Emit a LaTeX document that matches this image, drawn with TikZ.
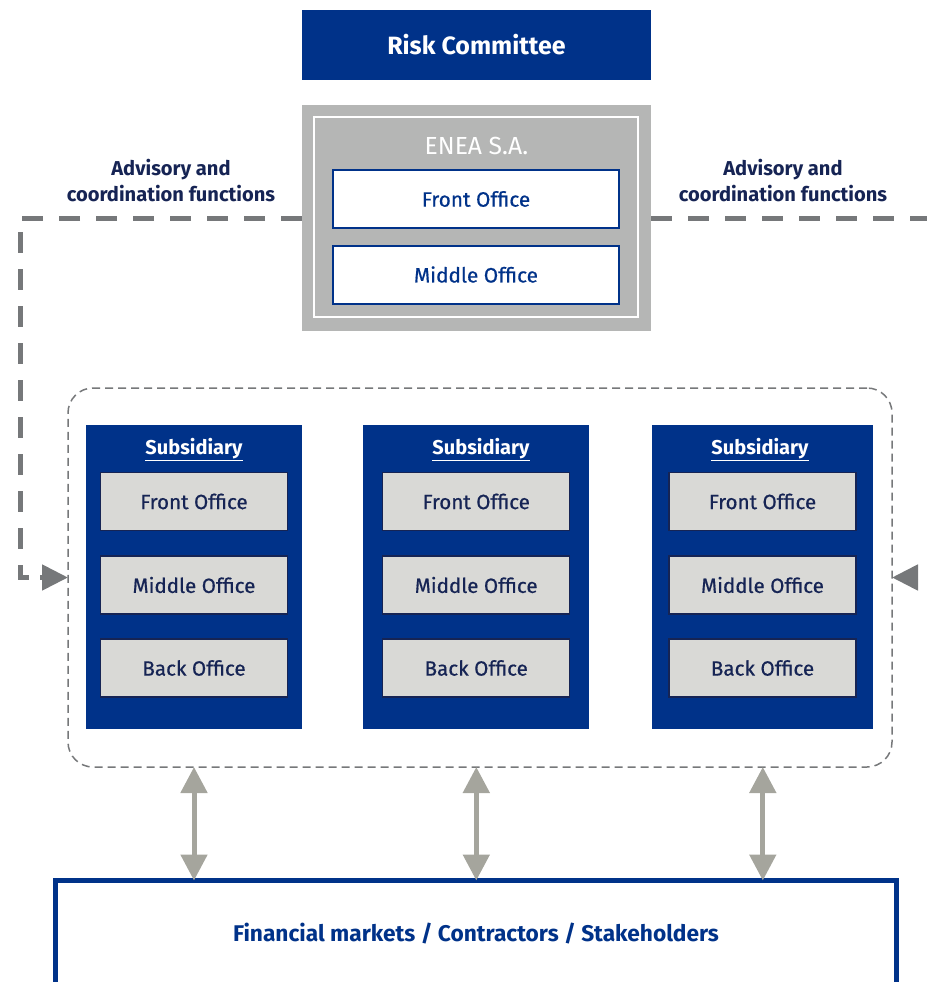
\documentclass[tikz,border=0pt]{standalone}
\usepackage{fontspec}
\setmainfont{Fira Sans}
\newfontfamily\medfont{Fira Sans}[FakeBold=0.6]
\usetikzlibrary{arrows.meta}
\definecolor{navy}{RGB}{0,50,137}
\definecolor{darknavy}{RGB}{22,36,84}
\definecolor{eneagray}{RGB}{181,182,181}
\definecolor{dashgray}{RGB}{118,120,122}
\definecolor{arrowgray}{RGB}{165,165,157}
\definecolor{subfill}{RGB}{217,217,214}
\begin{document}
\begin{tikzpicture}[x=1pt,y=-1pt,
  every node/.style={inner sep=0pt, outer sep=0pt},
  riskbox/.style={rectangle, fill=navy, text=white, minimum width=349pt, minimum height=70pt, font=\fontsize{25}{30}\selectfont\bfseries},
  eneabox/.style={rectangle, fill=eneagray, minimum width=349pt, minimum height=226pt},
  eneainner/.style={rectangle, draw=white, line width=2pt, minimum width=324pt, minimum height=200pt},
  eneaoffice/.style={rectangle, fill=white, draw=navy, line width=2pt, minimum width=286pt, minimum height=58pt, text=navy, font=\medfont\fontsize{20.8}{24}\selectfont},
  advlabel/.style={align=center, text=darknavy, font=\fontsize{20.1}{26}\selectfont\bfseries},
  coordline/.style={draw=dashgray, line width=5pt, dash pattern=on 21pt off 16pt},
  tipline/.style={draw=dashgray, line width=5pt, -{Triangle[length=26pt,width=25pt]}},
  groupbox/.style={rectangle, draw=dashgray, line width=1.5pt, dash pattern=on 8pt off 5pt, rounded corners=25pt, minimum width=824pt, minimum height=379pt},
  subbox/.style={rectangle, fill=navy, minimum height=304pt},
  subtitle/.style={text=white, font=\fontsize{20}{24}\selectfont\bfseries},
  officebox/.style={rectangle, fill=subfill, draw=darknavy, line width=1.5pt, minimum width=187pt, minimum height=58pt, text=darknavy, font=\medfont\fontsize{20.6}{24}\selectfont},
  biarrow/.style={draw=arrowgray, line width=5pt, {Triangle[length=26pt,width=26pt]}-{Triangle[length=26pt,width=26pt]}},
  marketbox/.style={rectangle, draw=navy, line width=5pt, fill=white, minimum width=841pt, minimum height=105pt, text=navy, font=\fontsize{22.7}{26}\selectfont\bfseries}
]
\useasboundingbox (0,0) rectangle (926,982);

% top
\node[riskbox] (risk) at (476.5,45) {Risk Committee};
\node[eneabox] (enea) at (476.5,218) {};
\node[eneainner] (eneain) at (476,217) {};
\node[text=white, font=\fontsize{24.7}{28}\selectfont] (eneatitle) at (476.5,146) {ENEA S.A.};
\node[eneaoffice] (efront) at (476,199) {Front Office};
\node[eneaoffice] (emiddle) at (476,274.5) {Middle Office};

% labels
\node[advlabel] (advl) at (171,181) {Advisory and\\coordination functions};
\node[advlabel] (advr) at (783,181) {Advisory and\\coordination functions};

% group of subsidiaries
\node[groupbox] (group) at (480,577.5) {};

\foreach \n/\cx/\w/\tx/\ix in {1/194/216/194/194, 2/476.3/226/481/476.2, 3/762.8/221/760/762.5}{
  \node[subbox, minimum width=\w pt] (sub\n) at (\cx,577) {};
  \node[subtitle] (subt\n) at (\tx,449.5) {\underline{Subsidiary}};
  \node[officebox] (front\n) at (\ix,501.5) {Front Office};
  \node[officebox] (middle\n) at (\ix,585) {Middle Office};
  \node[officebox] (back\n) at (\ix,668) {Back Office};
}

% bottom box
\node[marketbox] (market) at (476,933) {Financial markets / Contractors / Stakeholders};

% dashed coordination lines
\coordinate (lcorner) at (20,218);
\coordinate (redge) at (930,218);
\coordinate (rtip) at (918,577.5);
\draw[coordline] (enea.west) -- (lcorner) -- (20,577.5) -- (42,577.5);
\draw[tipline] (40,577.5) -- (group.west);
\draw[coordline] (enea.east) -- (redge);
\draw[tipline] (rtip) -- (group.east);

% double arrows
\foreach \n in {1,2,3}{
  \draw[biarrow] (sub\n.south |- group.south) -- (sub\n.south |- market.north);
}
\end{tikzpicture}
\end{document}
